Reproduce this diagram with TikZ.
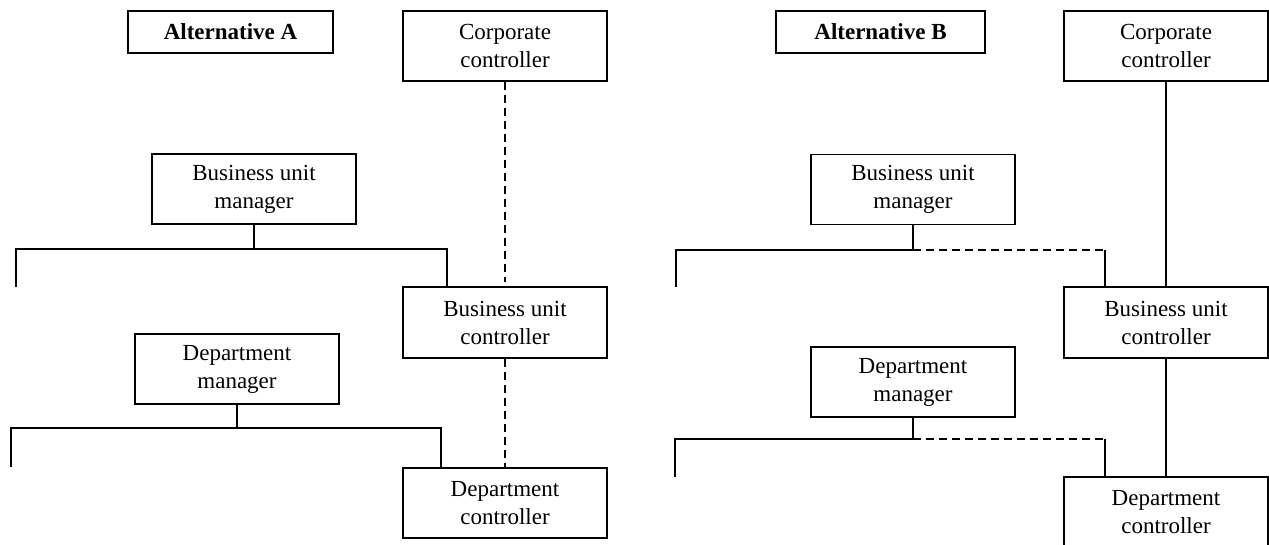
\documentclass[tikz,border=0pt]{standalone}
\usepackage{fontspec}
\setmainfont{Liberation Serif}
\usetikzlibrary{positioning,calc}

\begin{document}
\begin{tikzpicture}[x=1pt,y=-1pt,
	box/.style={draw,line width=1.5pt,minimum width=204pt,minimum height=70pt,inner sep=0pt,align=center,font=\fontsize{23}{28}\selectfont},
	titlebox/.style={draw,line width=1.5pt,minimum width=205pt,minimum height=42pt,inner sep=0pt,font=\fontsize{23}{28}\selectfont\bfseries},
	link/.style={line width=1.5pt},
	dashlink/.style={line width=1.5pt,dash pattern=on 8pt off 5pt}]
\useasboundingbox (0,0) rectangle (1269,545);
\clip (0,0) rectangle (1269,545);

\node[titlebox] (alta) at (230.5,32) {Alternative A};
\node[box] (corpa) at (505,46) {Corporate\\controller};
\node[box] (buma) at (254,189) {Business unit\\manager};
\node[box,minimum height=71pt] (buca) at (505,322.5) {Business unit\\controller};
\node[box] (dma) at (237,369) {Department\\manager};
\node[box] (dca) at (505,503) {Department\\controller};

\coordinate (a1) at (16,249);
\coordinate (a1end) at (16,287);
\coordinate (a1r) at (447,249);
\coordinate (a2) at (11,428);
\coordinate (a2end) at (11,467);
\coordinate (a2r) at (441,428);
\draw[link] (buma.south) -- (buma.south |- a1);
\draw[link] (a1end) -- (a1) -- (a1r) -- (a1r |- buca.north);
\draw[link] (dma.south) -- (dma.south |- a2);
\draw[link] (a2end) -- (a2) -- (a2r) -- (a2r |- dca.north);
\draw[dashlink] (corpa.south) -- ($(buca.north)+(0,-4)$);
\draw[dashlink] (buca.south) -- (dca.north);

\node[titlebox,minimum width=209pt] (altb) at (880.5,32) {Alternative B};
\node[box] (corpb) at (1166,46) {Corporate\\controller};
\node[box] (bumb) at (913,189.5) {Business unit\\manager};
\node[box,minimum height=71pt] (bucb) at (1166,322.5) {Business unit\\controller};
\node[box] (dmb) at (913,382) {Department\\manager};
\node[box,minimum height=71pt] (dcb) at (1166,512.5) {Department\\controller};

\coordinate (b1) at (676,250);
\coordinate (b1end) at (676,287);
\coordinate (b1r) at (1105,250);
\coordinate (b2) at (675,439);
\coordinate (b2end) at (675,477);
\coordinate (b2r) at (1105,439);
\draw[link] (bumb.south) -- (bumb.south |- b1) -- (b1) -- (b1end);
\draw[dashlink] (bumb.south |- b1) -- (b1r);
\draw[link] (b1r) -- (b1r |- bucb.north);
\draw[link] (dmb.south) -- (dmb.south |- b2) -- (b2) -- (b2end);
\draw[dashlink] (dmb.south |- b2) -- (b2r);
\draw[link] (b2r) -- (b2r |- dcb.north);
\draw[link] (corpb.south) -- (bucb.north);
\draw[link] (bucb.south) -- (dcb.north);
\end{tikzpicture}
\end{document}
